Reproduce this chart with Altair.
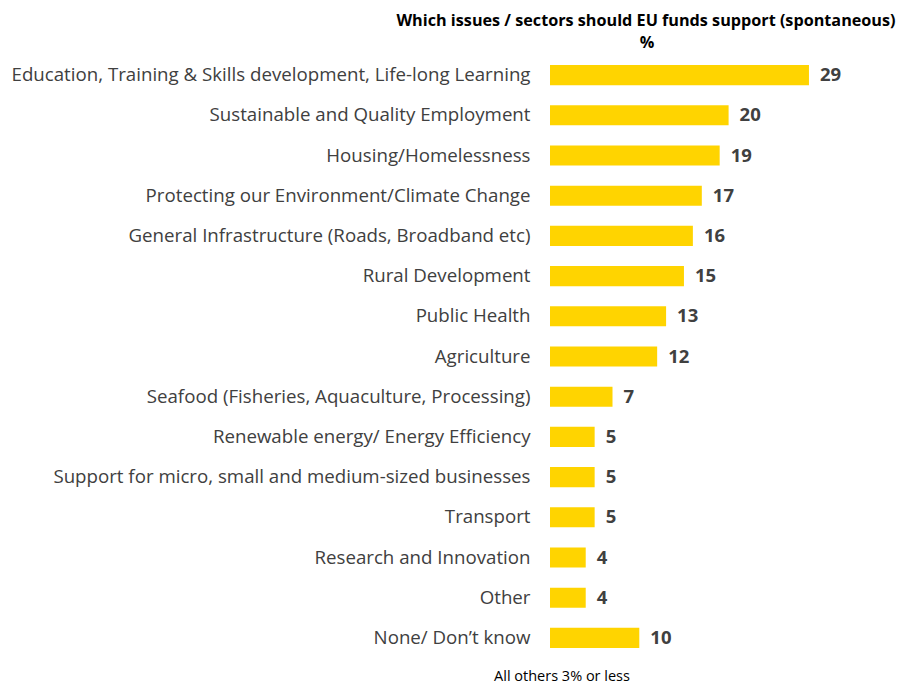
import altair as alt
import pandas as pd

categories = [
    "Education, Training & Skills development, Life-long Learning",
    "Sustainable and Quality Employment",
    "Housing/Homelessness",
    "Protecting our Environment/Climate Change",
    "General Infrastructure (Roads, Broadband etc)",
    "Rural Development",
    "Public Health",
    "Agriculture",
    "Seafood (Fisheries, Aquaculture, Processing)",
    "Renewable energy/ Energy Efficiency",
    "Support for micro, small and medium-sized businesses",
    "Transport",
    "Research and Innovation",
    "Other",
    "None/ Don\u2019t know",
]
values = [29, 20, 19, 17, 16, 15, 13, 12, 7, 5, 5, 5, 4, 4, 10]

title_line1 = "Which issues / sectors should EU funds support (spontaneous)"
title_line2 = "%"
footer = "All others 3% or less"

df = pd.DataFrame({"cat": categories, "val": values})

FONT = "Open Sans"
BAR = "#FFD400"
GREY = "#404040"

W, H = 348, 603

y = alt.Y("cat:N", sort=categories, title=None,
          scale=alt.Scale(paddingInner=0.5, paddingOuter=0.25),
          axis=alt.Axis(labelFontSize=18.7, labelColor=GREY, labelFont=FONT,
                        labelPadding=20, labelLimit=0, domain=False, ticks=False))
x = alt.X("val:Q", scale=alt.Scale(domain=[0, W / 8.93]), axis=None)

bars = alt.Chart(df).mark_bar(color=BAR).encode(x=x, y=y)
labels = alt.Chart(df).mark_text(align="left", baseline="middle", dx=11,
                                 fontSize=18.5, fontWeight="bold", color=GREY, font=FONT).encode(
    x=x, y=y, text=alt.Text("val:Q"))

t1 = alt.Chart(pd.DataFrame({"t": [title_line1]})).mark_text(
    fontSize=16.2, fontWeight="bold", color="#000000", font=FONT, align="center", baseline="middle"
).encode(text="t:N", x=alt.value(96), y=alt.value(-34))
t2 = alt.Chart(pd.DataFrame({"t": [title_line2]})).mark_text(
    fontSize=16.2, fontWeight="bold", color="#000000", font=FONT, align="center", baseline="middle"
).encode(text="t:N", x=alt.value(97), y=alt.value(-12))
ft = alt.Chart(pd.DataFrame({"t": [footer]})).mark_text(
    fontSize=14.5, color="#000000", font=FONT, align="center", baseline="middle"
).encode(text="t:N", x=alt.value(12), y=alt.value(H + 19))

chart = alt.layer(bars, labels, t1, t2, ft).properties(
    width=W, height=H,
    background="white",
    autosize=alt.AutoSizeParams(type="none"),
    padding={"left": 542, "top": 47, "right": 0, "bottom": 27},
).configure_view(strokeWidth=0, stroke="transparent")

chart.save("out.html", embed_options={"renderer": "svg", "actions": False})
